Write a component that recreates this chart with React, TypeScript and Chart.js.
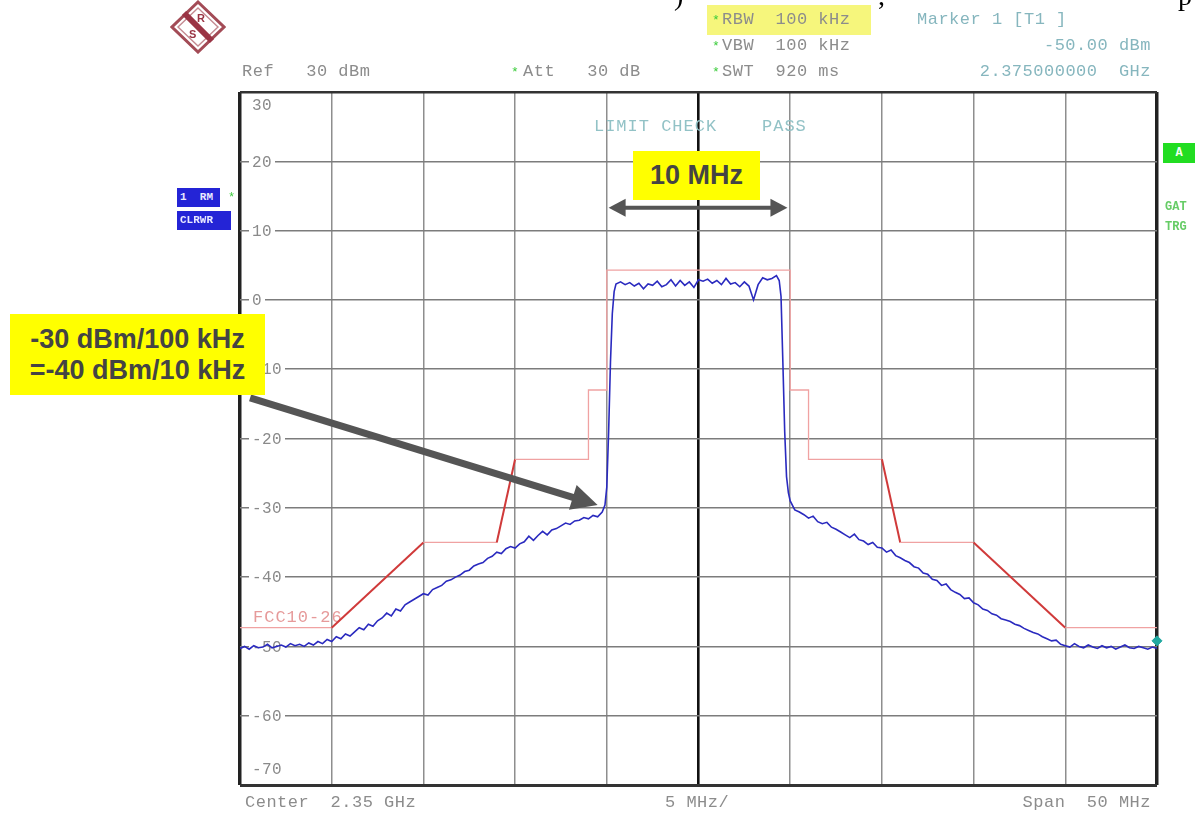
import React, { useEffect, useRef } from "react";
import { Chart, registerables } from "chart.js";

Chart.register(...registerables);

// ---- axis definition (offset from centre 2.35 GHz, MHz) ----
const xTickValues = [-25, -20, -15, -10, -5, 0, 5, 10, 15, 20, 25];
const yTickValues = [30, 20, 10, 0, -10, -20, -30, -40, -50, -60, -70];

// ---- measured trace (1 RM CLRWR) ----
const traceFreqMHz = [
  -25, -24.75, -24.5, -24.25, -24, -23.75, -23.5, -23.25, -23, -22.75,
  -22.5, -22.25, -22, -21.75, -21.5, -21.25, -21, -20.75, -20.5, -20.25,
  -20, -19.75, -19.5, -19.25, -19, -18.75, -18.5, -18.25, -18, -17.75,
  -17.5, -17.25, -17, -16.75, -16.5, -16.25, -16, -15.75, -15.5, -15.25,
  -15, -14.75, -14.5, -14.25, -14, -13.75, -13.5, -13.25, -13, -12.75,
  -12.5, -12.25, -12, -11.75, -11.5, -11.25, -11, -10.75, -10.5, -10.25,
  -10, -9.75, -9.5, -9.25, -9, -8.75, -8.5, -8.25, -8, -7.75,
  -7.5, -7.25, -7, -6.75, -6.5, -6.25, -6, -5.75, -5.5, -5.25,
  -5.1, -5.0, -4.9, -4.8, -4.7, -4.6, -4.5,
  -4.25, -4, -3.75, -3.5, -3.25, -3, -2.75, -2.5, -2.25, -2,
  -1.75, -1.5, -1.25, -1, -0.75, -0.5, -0.25, 0, 0.25, 0.5,
  0.75, 1, 1.25, 1.5, 1.75, 2, 2.25, 2.5, 2.75, 3,
  3.25, 3.5, 3.75, 4, 4.25,
  4.4, 4.5, 4.6, 4.7, 4.8, 4.9, 5.0,
  5.25, 5.5, 5.75, 6, 6.25, 6.5, 6.75, 7, 7.25, 7.5,
  7.75, 8, 8.25, 8.5, 8.75, 9, 9.25, 9.5, 9.75, 10,
  10.25, 10.5, 10.75, 11, 11.25, 11.5, 11.75, 12, 12.25, 12.5,
  12.75, 13, 13.25, 13.5, 13.75, 14, 14.25, 14.5, 14.75, 15,
  15.25, 15.5, 15.75, 16, 16.25, 16.5, 16.75, 17, 17.25, 17.5,
  17.75, 18, 18.25, 18.5, 18.75, 19, 19.25, 19.5, 19.75, 20,
  20.25, 20.5, 20.75, 21, 21.25, 21.5, 21.75, 22, 22.25, 22.5,
  22.75, 23, 23.25, 23.5, 23.75, 24, 24.25, 24.5, 24.75, 25,
];
const traceLevelDbm = [
  -50.3, -50.0, -50.4, -49.9, -50.2, -50.1, -49.7, -50.2, -50.0, -49.8,
  -50.1, -49.6, -49.9, -49.7, -50.0, -49.5, -49.8, -49.3, -49.6, -49.0,
  -49.3, -48.6, -48.9, -48.2, -48.5, -47.9, -47.3, -47.6, -46.8, -47.1,
  -46.3, -45.9, -45.2, -45.6, -44.6, -44.9, -44.0, -43.6, -43.2, -42.8,
  -42.4, -42.6, -41.8, -41.5, -41.2, -40.6, -40.4, -40.0, -39.7, -39.2,
  -39.0, -38.4, -38.1, -37.9, -37.3, -37.0, -36.4, -36.6, -35.9, -35.6,
  -35.8, -35.2, -34.9, -34.1, -34.7, -34.0, -33.4, -33.9, -33.2, -33.0,
  -32.6, -32.2, -32.4, -31.9, -31.8, -31.4, -31.6, -31.1, -31.3, -30.6,
  -29.6, -27.0, -19.0, -9.0, -2.0, 1.2, 2.3,
  2.6, 2.2, 2.5, 2.0, 2.4, 1.6, 2.3, 2.1, 2.7, 1.9,
  2.2, 2.9, 2.0, 2.8, 2.1, 2.6, 1.8, 2.9, 2.7, 3.0,
  2.4, 2.8, 2.2, 3.1, 2.3, 2.5, 1.9, 2.6, 2.0, 0.0,
  2.2, 3.2, 2.9, 3.1, 3.5,
  2.8, 0.5, -9.0, -19.0, -25.5, -27.8, -29.0,
  -30.3, -30.6, -31.0, -31.5, -31.2, -32.0, -32.3, -32.1, -32.8, -33.1,
  -33.5, -33.9, -34.3, -33.8, -34.6, -34.8, -35.3, -35.0, -35.7, -35.8,
  -36.4, -36.1, -36.9, -37.2, -37.6, -37.9, -38.5, -38.7, -39.4, -39.6,
  -40.3, -40.5, -41.2, -41.0, -41.8, -42.2, -42.5, -43.1, -43.0, -43.7,
  -44.0, -44.6, -44.8, -45.3, -45.5, -46.0, -46.2, -46.4, -46.8, -47.0,
  -47.4, -47.7, -48.0, -48.2, -48.6, -48.9, -49.2, -49.1, -49.7, -49.9,
  -50.1, -49.6, -50.0, -50.2, -49.8, -50.1, -50.3, -49.9, -50.2, -50.0,
  -50.4, -50.1, -49.8, -50.2, -50.3, -50.0, -50.2, -50.4, -50.1, -50.3,
];

// ---- FCC10-26 limit line ----
const limitFreqMHz = [-25, -20, -15, -11, -10, -6, -6, -5, -5, 5, 5, 6, 6, 10, 11, 15, 20, 25];
const limitLevelDbm = [-47.3, -47.3, -35, -35, -23, -23, -13, -13, 4.3, 4.3, -13, -13, -23, -23, -35, -35, -47.3, -47.3];

// ---- marker 1 ----
const markerFreqMHz = [25];
const markerLevelDbm = [-49.2];

// ---- annotation anchors (data units) ----
const bwArrow = { from: -4.9, to: 4.85, level: 13.3 };
const noteArrow = { fromX: -24.45, fromY: -14.15, toX: -5.5, toY: -29.6 };

const mono = '"Liberation Mono", "DejaVu Sans Mono", monospace';
const sans = '"Liberation Sans", Arial, sans-serif';

function arrow(ctx: CanvasRenderingContext2D, x1: number, y1: number, x2: number, y2: number, w: number, len: number, half: number, both: boolean) {
  const a = Math.atan2(y2 - y1, x2 - x1);
  const c = Math.cos(a), s = Math.sin(a);
  const sx = both ? x1 + len * c * 0.9 : x1;
  const sy = both ? y1 + len * s * 0.9 : y1;
  ctx.lineWidth = w;
  ctx.lineCap = "butt";
  ctx.beginPath();
  ctx.moveTo(sx, sy);
  ctx.lineTo(x2 - len * c * 0.9, y2 - len * s * 0.9);
  ctx.stroke();
  const head = (tx: number, ty: number, dc: number, ds: number) => {
    ctx.beginPath();
    ctx.moveTo(tx, ty);
    ctx.lineTo(tx - len * dc + half * ds, ty - len * ds - half * dc);
    ctx.lineTo(tx - len * dc - half * ds, ty - len * ds + half * dc);
    ctx.closePath();
    ctx.fill();
  };
  head(x2, y2, c, s);
  if (both) head(x1, y1, -c, -s);
}

const specPlugin = {
  id: "specLabels",
  beforeDatasetsDraw(chart: any) {
    const ctx: CanvasRenderingContext2D = chart.ctx;
    const ys = chart.scales.y;
    const xs = chart.scales.x;
    ctx.save();
    ctx.font = `16px ${mono}`;
    (ctx as any).letterSpacing = "0.4px";
    ctx.textBaseline = "middle";
    ctx.textAlign = "left";
    const lx = xs.left + 12;
    yTickValues.forEach((v) => {
      let y = ys.getPixelForValue(v);
      const edge = v === ys.max || v === ys.min;
      if (v === ys.max) y += 13;
      if (v === ys.min) y -= 16;
      const t = String(v);
      const w = ctx.measureText(t).width;
      if (!edge) {
        ctx.fillStyle = "#ffffff";
        ctx.fillRect(lx - 3, y - 5, w + 6, 10);
      }
      ctx.fillStyle = "#8a8a8a";
      ctx.fillText(t, lx, y + 1);
    });
    ctx.font = `17px ${mono}`;
    (ctx as any).letterSpacing = "1px";
    ctx.fillStyle = "#e69a9a";
    ctx.fillText("FCC10-26", xs.left + 13, ys.getPixelForValue(-45.8));
    ctx.fillStyle = "#92c2c6";
    ctx.fillText("LIMIT CHECK    PASS", xs.getPixelForValue(-5.7), ys.getPixelForValue(25.0));
    ctx.restore();
  },
  afterDraw(chart: any) {
    const ctx: CanvasRenderingContext2D = chart.ctx;
    const ys = chart.scales.y;
    const xs = chart.scales.x;
    ctx.save();
    ctx.fillStyle = "#555555";
    ctx.strokeStyle = "#555555";
    arrow(ctx, xs.getPixelForValue(bwArrow.from), ys.getPixelForValue(bwArrow.level),
      xs.getPixelForValue(bwArrow.to), ys.getPixelForValue(bwArrow.level), 4, 17, 9, true);
    arrow(ctx, xs.getPixelForValue(noteArrow.fromX), ys.getPixelForValue(noteArrow.fromY),
      xs.getPixelForValue(noteArrow.toX), ys.getPixelForValue(noteArrow.toY), 7, 26, 13, false);
    ctx.restore();
  },
};

function Txt(p: { x: number; y: number; t: string; color?: string; size?: number; right?: boolean; ls?: number; weight?: number; family?: string }) {
  return (
    <div
      style={{
        position: "absolute",
        top: p.y - 10,
        height: 20,
        lineHeight: "20px",
        left: p.right ? undefined : p.x,
        right: p.right ? 1199 - p.x : undefined,
        whiteSpace: "pre",
        fontFamily: p.family ?? mono,
        fontSize: p.size ?? 17,
        color: p.color ?? "#8c8c8c",
        letterSpacing: p.ls ?? 0.5,
        fontWeight: p.weight ?? 400,
      }}
    >
      {p.t}
    </div>
  );
}

export default function App() {
  const ref = useRef<HTMLCanvasElement>(null);
  useEffect(() => {
    const isDiag = (c: any) => c.p0.parsed.x !== c.p1.parsed.x && c.p0.parsed.y !== c.p1.parsed.y;
    const chart = new Chart(ref.current as HTMLCanvasElement, {
      type: "line",
      data: {
        datasets: [
          {
            data: markerFreqMHz.map((x, i) => ({ x, y: markerLevelDbm[i] })),
            showLine: false,
            pointStyle: "rectRot",
            pointRadius: 5,
            backgroundColor: "#1fa8a0",
            borderColor: "#1fa8a0",
            clip: false as any,
          },
          {
            data: traceFreqMHz.map((x, i) => ({ x, y: traceLevelDbm[i] })),
            borderColor: "#2a2abf",
            borderWidth: 1.6,
            pointRadius: 0,
            tension: 0,
          },
          {
            data: limitFreqMHz.map((x, i) => ({ x, y: limitLevelDbm[i] })),
            borderColor: "#f0a2a2",
            borderWidth: 1.3,
            pointRadius: 0,
            tension: 0,
            segment: {
              borderColor: (c: any) => (isDiag(c) ? "#d03a3a" : "#f0a2a2"),
              borderWidth: (c: any) => (isDiag(c) ? 2 : 1.3),
            },
          },
        ],
      },
      options: {
        responsive: false,
        maintainAspectRatio: false,
        animation: false,
        devicePixelRatio: 1,
        events: [],
        layout: { padding: { left: 240, right: 42, top: 92, bottom: 30 } },
        plugins: { legend: { display: false }, tooltip: { enabled: false } },
        scales: {
          x: {
            type: "linear",
            min: xTickValues[0],
            max: xTickValues[xTickValues.length - 1],
            afterBuildTicks: (s: any) => { s.ticks = xTickValues.map((v) => ({ value: v })); },
            afterFit: (s: any) => { s.height = 0; },
            ticks: { display: false },
            border: { display: false },
            grid: {
              drawTicks: false,
              color: (c: any) => (c.tick.value === 0 ? "#111111" : Math.abs(c.tick.value) === 25 ? "#222222" : "#8e8e8e"),
              lineWidth: (c: any) => (c.tick.value === 0 ? 2.6 : Math.abs(c.tick.value) === 25 ? 3.5 : 1.5),
            },
          },
          y: {
            type: "linear",
            min: yTickValues[yTickValues.length - 1],
            max: yTickValues[0],
            afterBuildTicks: (s: any) => { s.ticks = yTickValues.map((v) => ({ value: v })); },
            afterFit: (s: any) => { s.width = 0; },
            ticks: { display: false },
            border: { display: false },
            grid: {
              drawTicks: false,
              color: (c: any) => (c.tick.value === 30 || c.tick.value === -70 ? "#333333" : "#7c7c7c"),
              lineWidth: (c: any) => (c.tick.value === 30 ? 2.5 : c.tick.value === -70 ? 3 : 1.5),
            },
          },
        },
      },
      plugins: [specPlugin],
    } as any);
    return () => chart.destroy();
  }, []);

  const teal = "#86b6be";
  const green = "#3ccc3c";
  return (
    <div style={{ position: "absolute", left: 0, top: 0, width: 1199, height: 815, background: "#fff", overflow: "hidden" }}>
      <canvas ref={ref} width={1199} height={815} style={{ position: "absolute", left: 0, top: 0, width: 1199, height: 815 }} />

      {/* cut-off document text at the very top */}
      <div style={{ position: "absolute", left: 0, top: 0, width: 1199, height: 13, overflow: "hidden" }}>
        <span style={{ position: "absolute", left: 674, top: -18, fontFamily: '"Liberation Serif", serif', fontSize: 28, lineHeight: "28px", color: "#000" }}>)</span>
        <span style={{ position: "absolute", left: 878, top: -18, fontFamily: '"Liberation Serif", serif', fontSize: 28, lineHeight: "28px", color: "#000" }}>,</span>
        <span style={{ position: "absolute", left: 1178, top: -18, fontFamily: '"Liberation Serif", serif', fontSize: 28, lineHeight: "28px", color: "#000" }}>p</span>
      </div>

      {/* R&S logo */}
      <svg style={{ position: "absolute", left: 170, top: 0 }} width={56} height={54}>
        <polygon points="28,2 54,27 28,52 2,27" fill="none" stroke="#a34b56" strokeWidth={3} />
        <polygon points="28,8 48,27 28,46 8,27" fill="none" stroke="#c48a91" strokeWidth={1.4} />
        <line x1={14} y1={13} x2={42} y2={41} stroke="#9a3444" strokeWidth={6} />
        <text x={27} y={22} fontSize={11} fontFamily={sans} fill="#9a3444" fontWeight={700}>R</text>
        <text x={19} y={38} fontSize={11} fontFamily={sans} fill="#9a3444" fontWeight={700}>S</text>
      </svg>

      {/* header */}
      <div style={{ position: "absolute", left: 707, top: 5, width: 164, height: 30, background: "#f6f67c" }} />
      <Txt x={712} y={21} t="*" color={green} size={13} />
      <Txt x={722} y={20} t="RBW  100 kHz" />
      <Txt x={917} y={20} t="Marker 1 [T1 ]" color={teal} />
      <Txt x={712} y={47} t="*" color={green} size={13} />
      <Txt x={722} y={46} t="VBW  100 kHz" />
      <Txt x={1151} y={46} t="-50.00 dBm" color={teal} right />
      <Txt x={242} y={72} t="Ref   30 dBm" />
      <Txt x={511} y={73} t="*" color={green} size={13} />
      <Txt x={523} y={72} t="Att   30 dB" />
      <Txt x={712} y={73} t="*" color={green} size={13} />
      <Txt x={722} y={72} t="SWT  920 ms" />
      <Txt x={1151} y={72} t="2.375000000  GHz" color={teal} right />

      {/* footer */}
      <Txt x={245} y={803} t="Center  2.35 GHz" />
      <Txt x={665} y={803} t="5 MHz/" />
      <Txt x={1151} y={803} t="Span  50 MHz" right />

      {/* left side trace info */}
      <div style={{ position: "absolute", left: 177, top: 188, width: 43, height: 19, background: "#2424d6", color: "#e8e8ff", fontFamily: mono, fontSize: 11, fontWeight: 700, lineHeight: "19px", whiteSpace: "pre", paddingLeft: 3, boxSizing: "border-box" }}>1  RM</div>
      <Txt x={228} y={198} t="*" color={green} size={12} />
      <div style={{ position: "absolute", left: 177, top: 211, width: 54, height: 19, background: "#2424d6", color: "#e8e8ff", fontFamily: mono, fontSize: 11, fontWeight: 700, lineHeight: "19px", paddingLeft: 3, boxSizing: "border-box" }}>CLRWR</div>

      {/* right side */}
      <div style={{ position: "absolute", left: 1163, top: 143, width: 32, height: 20, background: "#22dd22", color: "#f4fff4", fontFamily: mono, fontSize: 12, fontWeight: 700, lineHeight: "20px", textAlign: "center" }}>A</div>
      <Txt x={1165} y={207} t="GAT" color="#66cc66" size={12} weight={700} ls={0} />
      <Txt x={1165} y={227} t="TRG" color="#66cc66" size={12} weight={700} ls={0} />

      {/* annotations */}
      <div style={{ position: "absolute", left: 633, top: 151, width: 127, height: 49, background: "#ffff00", color: "#444", fontFamily: sans, fontWeight: 700, fontSize: 27, lineHeight: "49px", textAlign: "center" }}>10 MHz</div>
      <div style={{ position: "absolute", left: 10, top: 314, width: 255, height: 81, background: "#ffff00", color: "#444", fontFamily: sans, fontWeight: 700, fontSize: 27, lineHeight: "31px", display: "flex", flexDirection: "column", justifyContent: "center", alignItems: "center" }}>
        <div>-30 dBm/100 kHz</div>
        <div>=-40 dBm/10 kHz</div>
      </div>
    </div>
  );
}
